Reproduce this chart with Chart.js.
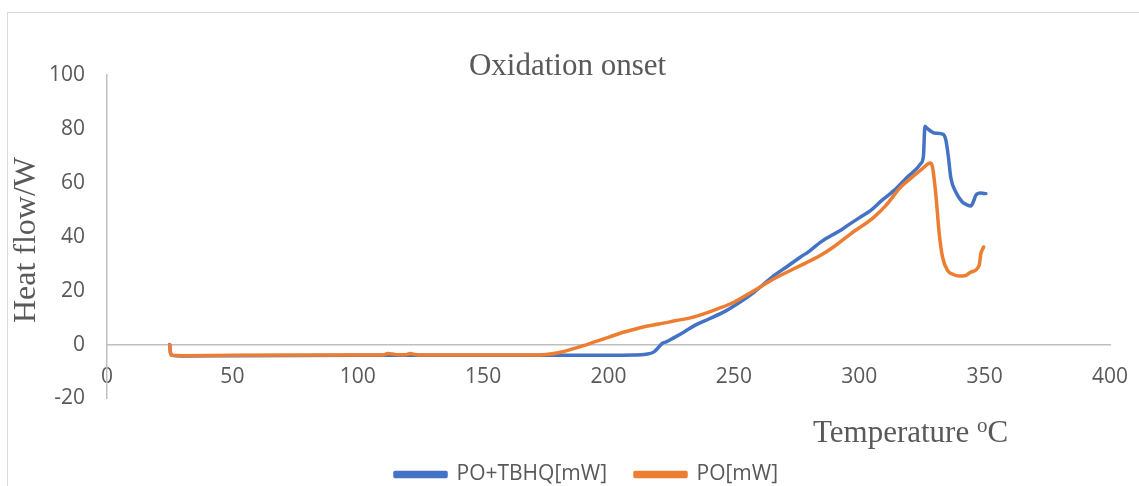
<!DOCTYPE html>
<html>
<head>
<meta charset="utf-8">
<script src="https://cdn.jsdelivr.net/npm/chart.js@4"></script>
<style>
  body { margin: 0; overflow: hidden; background: #fff; }
  #wrap { position: relative; width: 1139px; height: 495px; }
</style>
</head>
<body>
<div id="wrap"><canvas id="myChart"></canvas></div>
<script>
// PO+TBHQ[mW]
let tempTbhq = [25, 25.3, 26, 30, 50, 100, 150, 180, 200, 210, 215, 218, 220, 221.5, 223, 226, 230, 235, 240, 247,
  252, 258, 266, 271, 276.6, 280, 284.6, 288, 292.6, 296, 300, 304.6, 309, 313.9, 319, 324.6, 325.6,
  326.2, 327, 330, 333.5, 334.5, 335.5, 336.5, 338.5, 341, 343, 344.5, 345.5, 346.5, 348.5, 350.5];
let flowTbhq = [0, -3, -4, -4.2, -4.1, -4.0, -4.0, -4.0, -4.0, -3.9, -3.6, -2.8, -1, 0.5, 1.0, 2.5, 4.6, 7.4, 9.5, 12.6,
  15.5, 19.4, 25.6, 28.8, 32.5, 34.6, 38, 40, 42.4, 44.6, 47, 49.8, 53.5, 57.2, 62, 67.2, 70,
  81, 80.3, 78.5, 78, 76, 70, 62, 56.6, 53, 51.8, 51.4, 53, 55.4, 56.2, 56];

// PO[mW]
let tempPo = [25, 25.3, 26, 30, 50, 100, 110, 112, 114, 116, 119, 121, 123, 125, 150, 170, 175, 180, 185, 190,
  195, 200, 205, 210, 215, 220, 227, 233, 238, 244, 250, 258, 266, 275, 284.6, 290, 296.6, 305.9, 311, 316.6,
  321, 325.2, 328.3, 329.2, 330.5, 331.9, 333.2, 335.2, 337.5, 339.8, 342, 344.5, 347.8, 348.5, 349.6];
let flowPo = [0, -3, -4, -4.1, -4.0, -3.9, -3.9, -3.3, -3.5, -3.8, -3.8, -3.3, -3.7, -3.9, -3.9, -3.9, -3.7, -3.0, -1.8, -0.4,
  1.2, 2.7, 4.3, 5.6, 6.8, 7.6, 8.9, 10, 11.4, 13.4, 15.7, 20, 24.4, 28.6, 33.1, 36.4, 41.1, 47.3, 52, 58.5,
  62, 65.3, 67.4, 65.9, 56, 41.1, 32.5, 27.5, 26, 25.4, 25.5, 26.9, 29.4, 33.7, 36.2];

let seriesNames = ["PO+TBHQ[mW]", "PO[mW]"];
let seriesColors = ["#4472C4", "#ED7D31"];

const textGray = "#595959";
const axisGray = "#bfbfbf";

function toPoints(xs, ys) {
  return xs.map((x, i) => ({ x: x, y: ys[i] }));
}

// frame, axis titles, and nudging title/legend to where Excel put them
const decorations = {
  id: "decorations",
  afterLayout(chart) {
    const lg = chart.legend;
    const p = lg.options.labels.padding;
    const start = (lg.left + p + lg.right - lg.lineWidths[0]) / 2;
    const d = 395 - start;
    lg.left += d;
    lg.right += d;
    const tb = chart.titleBlock;
    const dt = 567.5 - (tb.left + tb.right) / 2;
    tb.left += dt;
    tb.right += dt;
  },
  beforeDraw(chart) {
    const ctx = chart.ctx;
    ctx.save();
    ctx.strokeStyle = "#d9d9d9";
    ctx.lineWidth = 1;
    ctx.strokeRect(7.5, 12.5, 1160, 520);
    ctx.restore();
  },
  afterDraw(chart) {
    const ctx = chart.ctx;
    ctx.save();
    ctx.fillStyle = textGray;
    ctx.font = "32px 'Liberation Serif'";
    ctx.textBaseline = "alphabetic";

    // y title
    ctx.save();
    ctx.translate(35, 240);
    ctx.rotate(-Math.PI / 2);
    ctx.textAlign = "center";
    ctx.fillText("Heat flow/W", 0, 0);
    ctx.restore();

    // x title with superscript o
    ctx.font = "31px 'Liberation Serif'";
    ctx.textAlign = "left";
    let x = 813, y = 442;
    ctx.fillText("Temperature ", x, y);
    x += ctx.measureText("Temperature ").width;
    ctx.font = "21px 'Liberation Serif'";
    ctx.fillText("o", x, y - 10);
    x += ctx.measureText("o").width;
    ctx.font = "31px 'Liberation Serif'";
    ctx.fillText("C", x, y);
    ctx.restore();
  }
};

const data = {
  datasets: [
    {
      label: seriesNames[0],
      data: toPoints(tempTbhq, flowTbhq),
      borderColor: seriesColors[0],
      backgroundColor: seriesColors[0],
      borderWidth: 3.5,
      order: 1,
    },
    {
      label: seriesNames[1],
      data: toPoints(tempPo, flowPo),
      borderColor: seriesColors[1],
      backgroundColor: seriesColors[1],
      borderWidth: 3.5,
      order: 0,
    },
  ],
};

const config = {
  type: "line",
  data: data,
  options: {
    responsive: true,
    maintainAspectRatio: false,
    animation: false,
    layout: { padding: { left: 0, right: 29, top: 0, bottom: 0 } },
    elements: {
      point: { radius: 0 },
      line: { cubicInterpolationMode: "monotone", borderCapStyle: "round", borderJoinStyle: "round" },
    },
    scales: {
      x: {
        type: "linear",
        position: { y: 0 },
        min: 0,
        max: 400,
        afterFit: (scale) => { scale.paddingLeft = 0; scale.paddingRight = 0; },
        grid: { display: true, drawOnChartArea: false, drawTicks: false },
        border: { display: true, color: axisGray, width: 1.5 },
        ticks: {
          stepSize: 50,
          padding: 20,
          maxRotation: 0,
          color: textGray,
          font: { family: "'Open Sans'", size: 21 },
        },
      },
      y: {
        min: -20,
        max: 100,
        afterFit: (scale) => { scale.width = 107; },
        grid: { display: true, drawOnChartArea: false, drawTicks: false },
        border: { display: true, color: axisGray, width: 1.5 },
        ticks: {
          stepSize: 20,
          padding: 22,
          color: textGray,
          font: { family: "'Open Sans'", size: 21 },
        },
      },
    },
    plugins: {
      title: {
        display: true,
        text: "Oxidation onset",
        color: textGray,
        font: { family: "'Liberation Serif'", size: 31, weight: "normal", lineHeight: "17px" },
        padding: { top: 58, bottom: 0 },
      },
      legend: {
        position: "bottom",
        title: { display: true, text: "", padding: 0, font: { size: 12, lineHeight: "37.5px" } },
        labels: {
          boxWidth: 51,
          boxHeight: 4,
          padding: 28,
          color: textGray,
          font: { family: "'Open Sans'", size: 21 },
          sort: (a, b) => a.datasetIndex - b.datasetIndex,
        },
      },
      tooltip: { enabled: false },
    },
  },
  plugins: [decorations],
};

const myChart = new Chart(document.getElementById("myChart"), config);
</script>
</body>
</html>
